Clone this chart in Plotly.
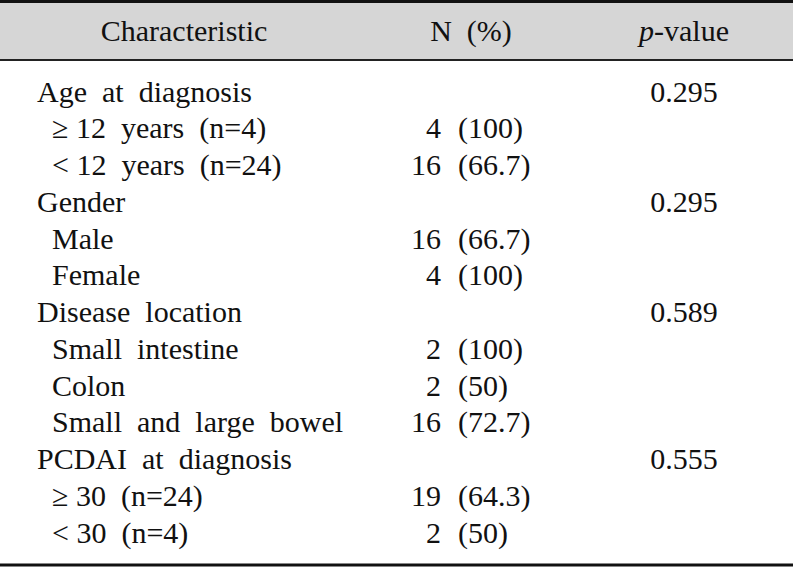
import plotly.graph_objects as go

NB = "\u00a0"

labels = ["Age at diagnosis", "≥12 years (n=4)", "<12 years (n=24)",
          "Gender", "Male", "Female",
          "Disease location", "Small intestine", "Colon", "Small and large bowel",
          "PCDAI at diagnosis", "≥30 (n=24)", "<30 (n=4)"]
is_sub = [False, True, True, False, True, True, False, True, True, True, False, True, True]
counts = ["", "4", "16", "", "16", "4", "", "2", "2", "16", "", "19", "2"]
pcts = ["", "100", "66.7", "", "66.7", "100", "", "100", "50", "72.7", "", "64.3", "50"]
pvals = ["0.295", "", "", "0.295", "", "", "0.589", "", "", "", "0.555", "", ""]
headers = ["Characteristic", "N" + NB * 2 + "(%)", "<i>p</i>-value"]

FONT = dict(family="Liberation Serif, Times New Roman, serif", size=30, color="#111111")


def sp(s):
    s = s.replace(" ", NB * 2)
    s = s.replace("≥", "≥" + NB).replace("<", "&lt;" + NB)
    return s


rows = list(range(len(labels)))
y_top = -94 / 36.75
y_bot = (567 - 94) / 36.75
y_head = (33 - 94) / 36.75

fig = go.Figure()

fig.add_trace(go.Scatter(
    x=[37 if not s else 52 for s in is_sub], y=rows,
    text=[sp(l) for l in labels], mode="text",
    textposition="middle right", textfont=FONT, hoverinfo="skip"))
fig.add_trace(go.Scatter(
    x=[441] * len(rows), y=rows, text=counts, mode="text",
    textposition="middle left", textfont=FONT, hoverinfo="skip"))
fig.add_trace(go.Scatter(
    x=[458] * len(rows), y=rows,
    text=["(" + p + ")" if p else "" for p in pcts], mode="text",
    textposition="middle right", textfont=FONT, hoverinfo="skip"))
fig.add_trace(go.Scatter(
    x=[684] * len(rows), y=rows, text=pvals, mode="text",
    textposition="middle center", textfont=FONT, hoverinfo="skip"))
fig.add_trace(go.Scatter(
    x=[184, 471, 684], y=[y_head] * 3, text=headers, mode="text",
    textposition="middle center", textfont=FONT, hoverinfo="skip"))

# header band and rules
fig.add_shape(type="rect", xref="paper", yref="paper", x0=0, x1=1,
              y0=1 - 60 / 567, y1=1 - 3 / 567, fillcolor="#d6d6d6", line_width=0,
              layer="below")
fig.add_shape(type="line", xref="paper", yref="paper", x0=0, x1=1,
              y0=1 - 1.5 / 567, y1=1 - 1.5 / 567, line=dict(color="#111111", width=3))
fig.add_shape(type="line", xref="paper", yref="paper", x0=0, x1=1,
              y0=1 - 60 / 567, y1=1 - 60 / 567, line=dict(color="#222222", width=2))
fig.add_shape(type="line", xref="paper", yref="paper", x0=0, x1=1,
              y0=2 / 567, y1=2 / 567, line=dict(color="#111111", width=3))

fig.update_layout(
    width=793, height=567, margin=dict(l=0, r=0, t=0, b=0),
    paper_bgcolor="white", plot_bgcolor="white", showlegend=False,
    xaxis=dict(range=[0, 793], visible=False, fixedrange=True),
    yaxis=dict(range=[y_bot, y_top], visible=False, fixedrange=True),
)

fig.write_html("out.html", config={"displayModeBar": False},
               post_script="document.body.style.margin='0';document.body.style.overflow='hidden';")
